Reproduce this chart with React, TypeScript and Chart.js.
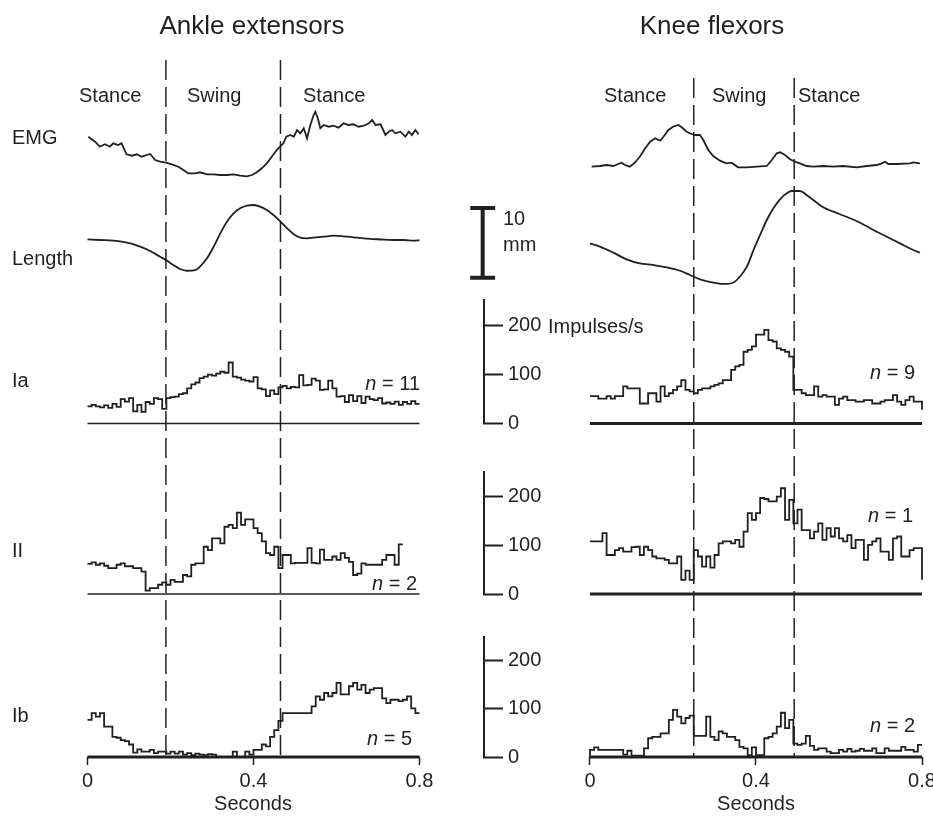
import React, { useEffect, useRef } from 'react';
import { Chart, registerables } from 'chart.js';

Chart.register(...registerables);

const FONT = "'Liberation Sans', Arial, Helvetica, sans-serif";
const INK = '#231f20';

// ---------- shared axis values ----------
const BIN = 0.01; // histogram bin width (s)
const T_END = 0.8;
const X_TICKS = [0, 0.4, 0.8];
const IMP_TICKS = [0, 100, 200];

// stance / swing transitions (s)
const ANKLE_PHASES = [0.189, 0.465];
const KNEE_PHASES = [0.25, 0.492];

// ---------- Ankle extensors ----------
const ANKLE_EMG_T = [0.002,0.018,0.030,0.042,0.054,0.062,0.074,0.082,0.094,0.107,0.119,0.131,0.143,0.151,0.163,0.175,0.189,0.203,0.219,0.231,0.243,0.260,0.271,0.288,0.304,0.320,0.336,0.352,0.368,0.384,0.396,0.408,0.420,0.432,0.444,0.456,0.464,0.472,0.479,0.489,0.497,0.505,0.513,0.521,0.529,0.537,0.545,0.549,0.555,0.561,0.569,0.581,0.593,0.605,0.617,0.629,0.641,0.653,0.666,0.678,0.686,0.694,0.706,0.718,0.726,0.734,0.742,0.754,0.766,0.774,0.782,0.790,0.798];
const ANKLE_EMG = [63.3,58.3,53.3,55.7,53.3,56.7,55,56.7,45.7,44.3,45.7,43.3,45,46,40,38.3,37.3,35.7,33.3,30,26.7,26.7,27.7,25.7,25.7,25,25,25.7,24.3,23.7,25,27.7,31.7,36.7,43.3,50,53.3,56.7,63.3,65,63.3,70,66.7,71.7,61.7,75,85,88.3,81.7,71.7,75,73.3,74.3,72.3,76.7,75,75.7,73.3,74.3,76.7,80,75,75.7,65,68.3,70,66.7,68.3,63.3,68.3,65,70,65.7];

const ANKLE_LEN_T = [0,0.030,0.062,0.103,0.127,0.151,0.175,0.189,0.207,0.223,0.239,0.260,0.271,0.288,0.304,0.320,0.336,0.352,0.368,0.384,0.400,0.416,0.432,0.448,0.464,0.481,0.497,0.513,0.529,0.545,0.569,0.593,0.617,0.641,0.666,0.690,0.714,0.738,0.762,0.786,0.8];
const ANKLE_LEN = [8.71,8.61,8.51,8.13,7.65,7.03,6.21,5.74,5.02,4.45,4.2,4.3,4.78,5.98,7.65,9.57,11.23,12.44,13.16,13.53,13.63,13.39,12.91,12.2,11.33,10.29,9.43,8.94,8.85,8.94,9.08,9.23,9.14,9.0,8.85,8.75,8.65,8.61,8.61,8.51,8.57];

const ANKLE_IA = [35,38,35,33,37,32,40,34,50,45, 52,25,38,24,44,40,52,50,30,52, 54,55,60,62,72,80,84,93,96,100, 98,102,106,104,125,96,94,90,88,86, 95,72,70,56,68,60,74,77,72,75, 74,99,78,79,92,88,69,70,88,72, 55,56,44,58,46,56,42,55,50,48, 52,41,43,40,45,38,44,40,46,40];
const ANKLE_II = [62,65,60,63,58,53,53,60,63,57, 57,53,53,46,7,12,12,19,24,19, 29,25,25,39,36,60,63,63,97,90, 114,114,104,138,142,135,167,142,153,153, 135,125,108,84,80,97,53,80,80,63, 64,64,64,94,64,63,91,70,70,77, 70,84,74,66,39,42,63,60,60,60, 60,70,80,80,60,102];
const ANKLE_IB = [77,91,84,91,63,63,42,40,35,33, 26,9,16,11,11,15,8,11,11,7, 11,7,11,5,8,4,7,5,4,6, 5,0,0,0,0,11,0,0,11,5, 15,15,26,22,42,56,75,91,91,91, 91,91,91,91,105,126,119,133,126,133, 154,130,130,147,154,140,150,133,140,143, 143,122,112,119,119,116,119,126,101,91];

// ---------- Knee flexors ----------
const KNEE_EMG_T = [0.004,0.024,0.040,0.056,0.068,0.076,0.084,0.096,0.108,0.120,0.133,0.145,0.157,0.169,0.177,0.189,0.200,0.213,0.221,0.233,0.245,0.253,0.265,0.273,0.285,0.297,0.313,0.329,0.341,0.357,0.378,0.402,0.426,0.438,0.450,0.458,0.470,0.482,0.494,0.506,0.522,0.538,0.562,0.586,0.610,0.643,0.667,0.691,0.703,0.711,0.719,0.739,0.771,0.779,0.795];
const KNEE_EMG = [33.3,34,35,34,36,37.3,35,33.3,37.3,43.3,51.7,58.3,61.7,59.3,63.3,70,73.3,75,72.7,68.3,66,65,65,60,50,44,39.3,36.7,37.3,32.7,32.7,33.3,34,40,46.7,47.7,45,40.7,38.3,36.7,34,33.3,34,33.3,34,32.7,34,35,36.7,38.3,36,36,36.7,37.7,36.7];

const KNEE_LEN_T = [0,0.024,0.056,0.088,0.120,0.153,0.185,0.217,0.241,0.265,0.297,0.321,0.345,0.361,0.378,0.394,0.410,0.426,0.442,0.458,0.474,0.486,0.506,0.522,0.538,0.562,0.586,0.618,0.651,0.683,0.715,0.747,0.779,0.795];
const KNEE_LEN = [8.13,7.65,6.79,5.84,5.26,5.02,4.69,4.2,3.59,2.97,2.48,2.3,2.48,3.34,4.78,7.17,9.33,11.48,13.16,14.45,15.31,15.64,15.64,15.06,14.35,13.3,12.67,11.95,11.09,10.04,9.08,8.13,7.17,6.79];

const KNEE_IA = [56,56,51,51,56,51,56,56,76,72, 72,72,41,41,62,62,45,76,56,62, 69,76,89,69,66,62,69,72,72,76, 79,82,89,89,110,117,120,147,151,158, 182,182,192,171,168,154,151,147,137,69, 69,62,58,58,76,55,58,55,55,38, 51,55,48,48,45,45,48,48,41,41, 45,48,48,58,45,38,48,55,45,45];
const KNEE_IA_END = 28;
const KNEE_II = [108,108,108,125,80,80,90,94,87,87, 96,97,80,97,90,77,73,73,70,63, 63,77,29,48,29,90,77,56,77,54, 80,104,108,108,104,111,97,128,166,152, 166,197,195,190,190,200,217,152,193,145, 173,131,131,114,128,145,111,135,118,135, 114,108,121,94,111,111,70,101,108,114, 87,87,70,114,118,77,77,90,94,94];
const KNEE_II_END = 29;
const KNEE_IB = [15,20,15,15,15,15,15,15,5,13, 3,3,3,18,39,42,42,49,49,77, 98,84,70,81,86,44,44,44,84,42, 35,53,49,42,42,35,21,18,4,20, 4,4,39,42,49,63,92,60,77,28, 25,28,44,23,15,18,18,11,8,8, 15,11,17,11,13,17,13,13,18,8, 8,18,13,13,13,21,15,15,11,25];

// 10 mm calibration bar (on the Length axis, mm)
const SCALE_BAR_MM = 10;
const SCALE_BAR_BASE = 3.2;
const SCALE_BAR_T = -0.2586;
const SCALE_BAR_HALF = 0.03;

// vertical ranges of each row
const EMG_MAX = 105;
const LEN_MAX = 14.35;
const IA_MAX = 253;
const II_MAX = 251;
const IB_MAX = 250;

// ---------- helpers ----------
const xy = (t: number[], v: number[]) => t.map((x, i) => ({ x, y: v[i] }));
const steps = (values: number[], end?: number, start?: number) => {
  const pts: any[] = [];
  if (start !== undefined) pts.push({ x: 0, y: start });
  values.forEach((v, k) => pts.push({ x: k * BIN, y: v }));
  pts.push({ x: values.length * BIN, y: end ?? values[values.length - 1] });
  return pts;
};

const traceStyle = { borderColor: INK, borderWidth: 1.8, pointRadius: 0, fill: false, clip: false };

function hiddenAxis(weight: number, max = 1, stacked = true) {
  const a: any = {
    type: 'linear', display: false, position: 'left', min: 0, max,
    afterFit: (s: any) => { s.width = 0; s.paddingTop = 0; s.paddingBottom = 0; },
  };
  if (stacked) { a.stack = 'rows'; a.stackWeight = weight; }
  return a;
}

function impulseAxis(weight: number, max: number, show: boolean) {
  if (!show) return hiddenAxis(weight, max);
  return {
    type: 'linear', display: true, position: 'left', stack: 'rows', stackWeight: weight,
    min: 0, max,
    border: { display: true, color: INK, width: 2 },
    grid: { drawOnChartArea: false, drawTicks: true, tickLength: -19, tickWidth: 2, tickColor: INK },
    ticks: { mirror: true, padding: 24, color: INK, font: { size: 20, family: FONT }, crossAlign: 'near' },
    afterBuildTicks: (s: any) => { s.ticks = IMP_TICKS.map((value) => ({ value })); },
    afterFit: (s: any) => { s.width = 4; s.paddingTop = 0; s.paddingBottom = 0; },
  };
}

type Txt = { text: string; x: number; y: number; size: number; align?: CanvasTextAlign; italic?: string };

function textPlugin(items: Txt[], offsetX: number) {
  return {
    id: 'figureText',
    afterDraw(chart: any) {
      const ctx = chart.ctx;
      ctx.save();
      ctx.fillStyle = INK;
      ctx.textBaseline = 'alphabetic';
      for (const it of items) {
        const x = it.x - offsetX;
        const normal = `${it.size}px ${FONT}`;
        if (it.italic) {
          const ital = `italic ${it.size}px ${FONT}`;
          ctx.font = ital;
          const w1 = ctx.measureText(it.italic).width;
          ctx.font = normal;
          const w2 = ctx.measureText(it.text).width;
          const x0 = it.align === 'right' ? x - w1 - w2 : x;
          ctx.textAlign = 'left';
          ctx.font = ital;
          ctx.fillText(it.italic, x0, it.y);
          ctx.font = normal;
          ctx.fillText(it.text, x0 + w1, it.y);
        } else {
          ctx.font = normal;
          ctx.textAlign = it.align ?? 'left';
          ctx.fillText(it.text, x, it.y);
        }
      }
      ctx.restore();
    },
  };
}

type Column = {
  canvasX: number; canvasW: number; padding: any; xMin: number; topSpacer: number; showAxes: boolean;
  phases: number[]; emgT: number[]; emg: number[]; lenT: number[]; len: number[];
  ia: any[]; ii: any[]; ib: any[]; thinBase: boolean; texts: Txt[]; scaleBar: boolean;
};

const LEFT: Column = {
  canvasX: 0, canvasW: 440, padding: { left: 87.5, right: 20.5, top: 60, bottom: 0 }, xMin: 0,
  topSpacer: 35, showAxes: false, phases: ANKLE_PHASES,
  emgT: ANKLE_EMG_T, emg: ANKLE_EMG, lenT: ANKLE_LEN_T, len: ANKLE_LEN,
  ia: steps(ANKLE_IA), ii: steps(ANKLE_II), ib: steps(ANKLE_IB), thinBase: true, scaleBar: false,
  texts: [
    { text: 'Ankle extensors', x: 252, y: 34, size: 26, align: 'center' },
    { text: 'Stance', x: 79, y: 102, size: 20 },
    { text: 'Swing', x: 187, y: 102, size: 20 },
    { text: 'Stance', x: 303, y: 102, size: 20 },
    { text: 'EMG', x: 12, y: 144, size: 20 },
    { text: 'Length', x: 12, y: 265, size: 20 },
    { text: 'Ia', x: 12, y: 387, size: 20 },
    { text: 'II', x: 12, y: 557, size: 20 },
    { text: 'Ib', x: 12, y: 722, size: 20 },
    { italic: 'n', text: ' = 11', x: 420, y: 390, size: 20, align: 'right' },
    { italic: 'n', text: ' = 2', x: 417, y: 590, size: 20, align: 'right' },
    { italic: 'n', text: ' = 5', x: 412, y: 745, size: 20, align: 'right' },
    { text: 'Seconds', x: 253, y: 810, size: 20, align: 'center' },
  ],
};

const RIGHT: Column = {
  canvasX: 440, canvasW: 493, padding: { left: 40, right: 11, top: 78, bottom: 0 }, xMin: -0.2554,
  topSpacer: 17, showAxes: true, phases: KNEE_PHASES,
  emgT: KNEE_EMG_T, emg: KNEE_EMG, lenT: KNEE_LEN_T, len: KNEE_LEN,
  ia: steps(KNEE_IA, KNEE_IA_END), ii: steps(KNEE_II, KNEE_II_END), ib: steps(KNEE_IB, undefined, 0),
  thinBase: false, scaleBar: true,
  texts: [
    { text: 'Knee flexors', x: 712, y: 34, size: 26, align: 'center' },
    { text: 'Stance', x: 604, y: 102, size: 20 },
    { text: 'Swing', x: 712, y: 102, size: 20 },
    { text: 'Stance', x: 798, y: 102, size: 20 },
    { text: 'Impulses/s', x: 548, y: 333, size: 20 },
    { text: '10', x: 503, y: 225, size: 20 },
    { text: 'mm', x: 503, y: 251, size: 20 },
    { italic: 'n', text: ' = 9', x: 915, y: 379, size: 20, align: 'right' },
    { italic: 'n', text: ' = 1', x: 913, y: 522, size: 20, align: 'right' },
    { italic: 'n', text: ' = 2', x: 915, y: 732, size: 20, align: 'right' },
    { text: 'Seconds', x: 756, y: 810, size: 20, align: 'center' },
  ],
};

function buildConfig(c: Column): any {
  const base = (axis: string, thick: boolean) => ({
    ...traceStyle, yAxisID: axis, borderWidth: thick ? 3 : 1.5,
    data: [{ x: 0, y: 0 }, { x: T_END, y: 0 }],
  });
  const datasets: any[] = [
    { ...traceStyle, yAxisID: 'yEmg', data: xy(c.emgT, c.emg) },
    { ...traceStyle, yAxisID: 'yLen', data: xy(c.lenT, c.len), cubicInterpolationMode: 'monotone' },
    { ...traceStyle, yAxisID: 'yIa', data: c.ia, stepped: 'before' },
    { ...traceStyle, yAxisID: 'yII', data: c.ii, stepped: 'before' },
    { ...traceStyle, yAxisID: 'yIb', data: c.ib, stepped: 'before' },
    base('yIa', !c.thinBase),
    base('yII', !c.thinBase),
    base('yIb', true),
    ...c.phases.map((t) => ({
      ...traceStyle, borderWidth: 1.5, borderDash: [20, 7], yAxisID: 'yFull',
      data: [{ x: t, y: 1 }, { x: t, y: 0 }],
    })),
  ];
  if (c.scaleBar) {
    const top = SCALE_BAR_BASE + SCALE_BAR_MM;
    datasets.push({
      ...traceStyle, borderWidth: 4, yAxisID: 'yLen', borderCapStyle: 'butt',
      data: [
        { x: SCALE_BAR_T - SCALE_BAR_HALF, y: top }, { x: SCALE_BAR_T + SCALE_BAR_HALF, y: top },
        { x: SCALE_BAR_T, y: top }, { x: SCALE_BAR_T, y: SCALE_BAR_BASE },
        { x: SCALE_BAR_T - SCALE_BAR_HALF, y: SCALE_BAR_BASE }, { x: SCALE_BAR_T + SCALE_BAR_HALF, y: SCALE_BAR_BASE },
      ],
    });
  }

  const scales: any = {
    // stacked rows, listed bottom row first (later ones are stacked above)
    yIb: impulseAxis(120.3, IB_MAX, c.showAxes),
    gap2: hiddenAxis(42.7),
    yII: impulseAxis(122.3, II_MAX, c.showAxes),
    gap1: hiddenAxis(48.2),
    yIa: impulseAxis(123.5, IA_MAX, c.showAxes),
    yLen: hiddenAxis(100, LEN_MAX),
    yEmg: hiddenAxis(105, EMG_MAX),
    gapTop: hiddenAxis(c.topSpacer),
    yFull: hiddenAxis(1, 1, false),
    x: {
      type: 'linear', position: 'bottom', min: c.xMin, max: T_END,
      border: { display: false },
      grid: { drawOnChartArea: false, drawTicks: true, tickLength: 8, tickWidth: 1.5, tickColor: INK },
      ticks: {
        color: INK, font: { size: 20, family: FONT }, padding: 4, maxRotation: 0, autoSkip: false,
        callback: (v: any) => String(v),
      },
      afterBuildTicks: (s: any) => { s.ticks = X_TICKS.map((value) => ({ value })); },
      afterFit: (s: any) => { s.height = 62; s.paddingLeft = 0; s.paddingRight = 0; },
    },
  };

  return {
    type: 'line',
    data: { datasets },
    options: {
      responsive: false,
      animation: false,
      devicePixelRatio: 1,
      events: [],
      layout: { padding: c.padding },
      elements: { line: { tension: 0 } },
      plugins: { legend: { display: false }, tooltip: { enabled: false }, title: { display: false } },
      scales,
    },
    plugins: [textPlugin(c.texts, c.canvasX)],
  };
}

export default function App() {
  const leftRef = useRef<HTMLCanvasElement>(null);
  const rightRef = useRef<HTMLCanvasElement>(null);

  useEffect(() => {
    Chart.defaults.font.family = FONT;
    Chart.defaults.color = INK;
    const a = new Chart(leftRef.current as HTMLCanvasElement, buildConfig(LEFT));
    const b = new Chart(rightRef.current as HTMLCanvasElement, buildConfig(RIGHT));
    return () => { a.destroy(); b.destroy(); };
  }, []);

  return (
    <div style={{ position: 'absolute', left: 0, top: 0, width: 933, height: 819, background: '#fff', overflow: 'hidden' }}>
      <canvas ref={leftRef} width={LEFT.canvasW} height={819}
        style={{ position: 'absolute', left: LEFT.canvasX, top: 0, width: LEFT.canvasW, height: 819 }} />
      <canvas ref={rightRef} width={RIGHT.canvasW} height={819}
        style={{ position: 'absolute', left: RIGHT.canvasX, top: 0, width: RIGHT.canvasW, height: 819 }} />
    </div>
  );
}
